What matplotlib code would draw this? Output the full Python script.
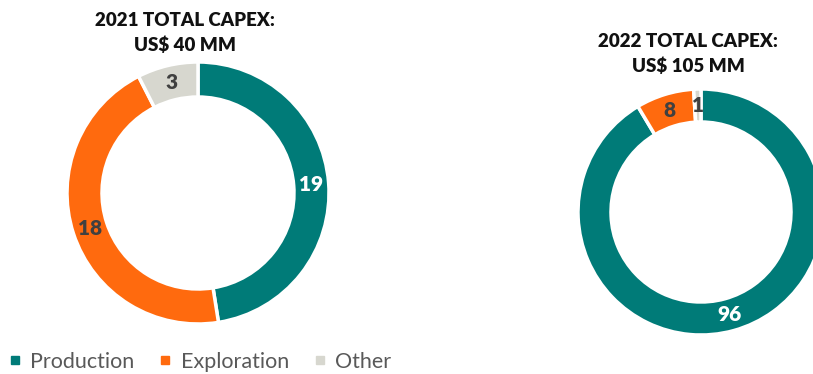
import matplotlib.pyplot as plt
from matplotlib.lines import Line2D

plt.rcParams["font.family"] = ["Lato", "DejaVu Sans"]

categories = ["Production", "Exploration", "Other"]
capex_2021 = [19, 18, 3]
capex_2022 = [96, 8, 1]
title_2021 = "2021 TOTAL CAPEX:\nUS$ 40 MM"
title_2022 = "2022 TOTAL CAPEX:\nUS$ 105 MM"

colors = ["#007B78", "#FF6A0E", "#D7D7CF"]
label_colors = ["white", "#404040", "#404040"]

W, H = 813, 374
fig = plt.figure(figsize=(W / 100, H / 100), dpi=100)
ax = fig.add_axes([0, 0, 1, 1])


def donut(values, center, radius, width):
    wedges, _, autotexts = ax.pie(
        values,
        colors=colors,
        startangle=90,
        counterclock=False,
        center=center,
        radius=radius,
        autopct=lambda p: "%d" % round(p * sum(values) / 100),
        pctdistance=(radius - width / 2) / radius,
        wedgeprops=dict(width=width, edgecolor="white", linewidth=2.5),
        frame=True,
    )
    for t, c in zip(autotexts, label_colors):
        t.set_color(c)
        t.set_fontsize(15)
        t.set_fontweight("heavy")
    return wedges


donut(capex_2021, (198, H - 193), 131, 35)
donut(capex_2022, (701, H - 212), 123, 33)

ax.set_xlim(0, W)
ax.set_ylim(0, H)
ax.set_aspect("equal")
ax.axis("off")

ax.text(185, H - 33, title_2021, ha="center", va="center",
        fontsize=13.5, fontweight="heavy", color="#111111", linespacing=1.45)
ax.text(688, H - 54, title_2022, ha="center", va="center",
        fontsize=13.5, fontweight="heavy", color="#111111", linespacing=1.45)

handles = [Line2D([], [], marker="s", linestyle="", markersize=6,
                  markerfacecolor=c, markeredgecolor=c) for c in colors]
ax.legend(handles, categories, loc="center left", bbox_to_anchor=(0.0, 1 - 362 / H),
          ncol=3, frameon=False, fontsize=15.5, labelcolor="#595959",
          handlelength=0.55, handletextpad=0.45, columnspacing=1.15,
          borderaxespad=0, borderpad=0.4)

fig.savefig("out.png", dpi=100)
